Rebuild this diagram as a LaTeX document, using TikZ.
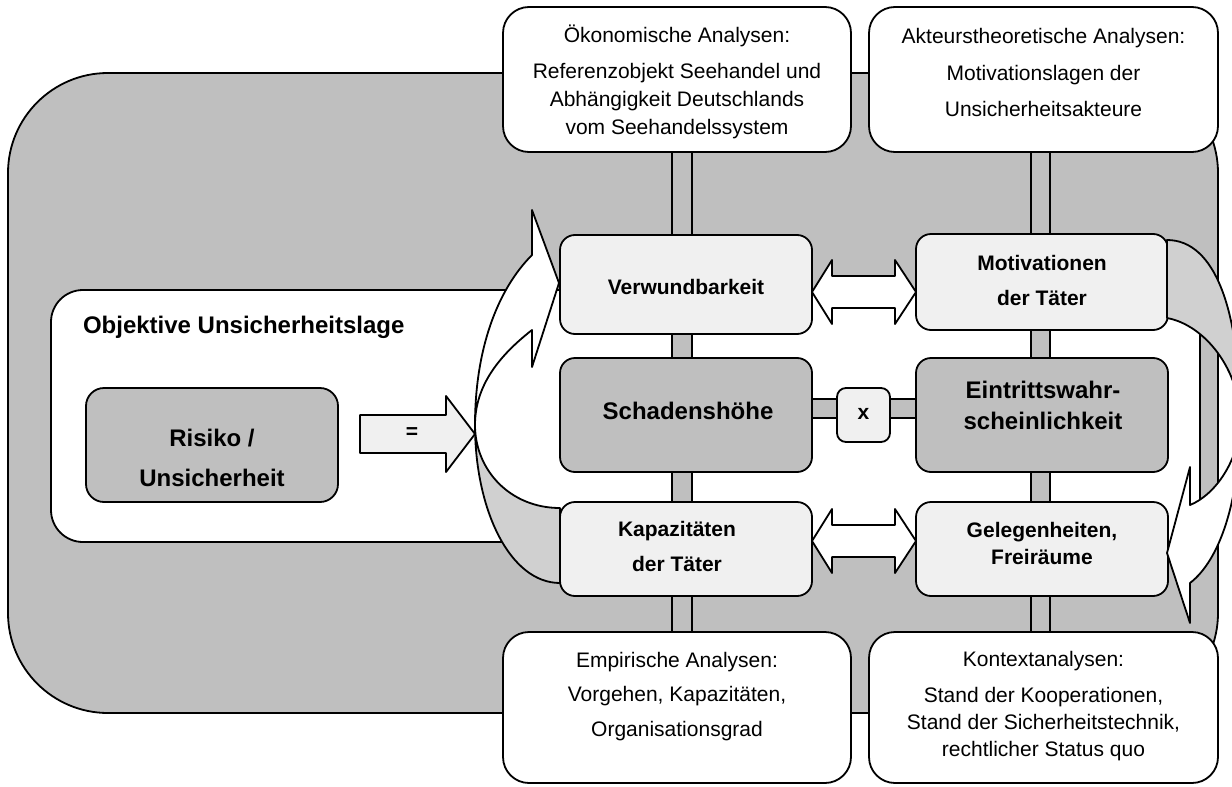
\documentclass[tikz,border=0pt]{standalone}
\usepackage{fontspec}
\setmainfont{Liberation Sans}
\usetikzlibrary{calc}
\definecolor{cGray}{HTML}{BFBFBF}
\definecolor{cLight}{HTML}{F0F0F0}
\definecolor{cBand}{HTML}{D0D0D0}
\begin{document}
\begin{tikzpicture}[x=1pt,y=-1pt,line join=round,
  every node/.style={inner sep=0pt,outer sep=0pt},
  panel/.style={draw=black,line width=1.8pt},
  infobox/.style={panel,fill=white,rounded corners=26pt,minimum width=348pt},
  midbox/.style={panel,rounded corners=15pt,minimum width=252pt},
  lightpanel/.style={midbox,fill=cLight},
  darkpanel/.style={midbox,fill=cGray},
  regtxt/.style={align=center,font=\fontsize{21}{28}\selectfont},
  boldtxt/.style={align=center,font=\bfseries\fontsize{21}{35}\selectfont},
  bigtxt/.style={align=center,font=\bfseries\fontsize{24}{36}\selectfont},
  blockarrow/.style={panel,fill=white},
  bar/.style={panel,fill=cGray}]
\useasboundingbox (0,0) rectangle (1232,787);

% background panel
\node[panel,fill=cGray,rounded corners=100pt,minimum width=1210pt,minimum height=640pt] (bg) at (613,393) {};
% objective situation panel
\node[panel,fill=white,rounded corners=32pt,minimum width=1149pt,minimum height=252pt] (obj) at (625.5,416) {};
\node[font=\bfseries\fontsize{24}{29}\selectfont,anchor=west] (objt) at (83,327) {Objektive Unsicherheitslage};

% analysis boxes
\node[infobox,minimum height=145pt] (oek) at (677,79.5) {};
\node[infobox,minimum width=349pt,minimum height=145pt] (akt) at (1043.5,79.5) {};
\node[infobox,minimum height=151pt] (emp) at (677,707.5) {};
\node[infobox,minimum width=349pt,minimum height=151pt] (kon) at (1043.5,707.5) {};

\node[regtxt] (oekt) at (677,82) {Ökonomische Analysen:\\[8pt]Referenzobjekt Seehandel und\\Abhängigkeit Deutschlands\\vom Seehandelssystem};
\node[regtxt,font=\fontsize{21}{36.5}\selectfont] (aktt) at (1043.5,72.5) {Akteurstheoretische Analysen:\\Motivationslagen der\\Unsicherheitsakteure};
\node[regtxt,font=\fontsize{21}{34.5}\selectfont] (empt) at (677,696.5) {Empirische Analysen:\\Vorgehen, Kapazitäten,\\Organisationsgrad};
\node[regtxt,font=\fontsize{21}{27}\selectfont] (kont) at (1043.5,706.5) {Kontextanalysen:\\[9pt]Stand der Kooperationen,\\Stand der Sicherheitstechnik,\\rechtlicher Status quo};

% vertical bars
\draw[bar] ($(oek.south)+(-5,0)$) rectangle ($(emp.north)+(15,0)$);
\draw[bar] ($(akt.south)+(-12.5,0)$) rectangle ($(kon.north)+(6.5,0)$);

% middle boxes
\node[lightpanel,minimum height=99pt] (verw) at (686,284.5) {};
\node[lightpanel,minimum height=96pt] (motiv) at (1042,282) {};
\node[darkpanel,minimum height=114pt] (schaden) at (686,415) {};
\node[darkpanel,minimum height=114pt] (eintr) at (1042,415) {};
\node[lightpanel,minimum height=94pt] (kapaz) at (686,549) {};
\node[lightpanel,minimum height=94pt] (geleg) at (1042,549) {};

\node[boldtxt] (verwt) at (686,287) {Verwundbarkeit};
\node[boldtxt] (motivt) at (1042,280) {Motivationen\\der Täter};
\node[bigtxt] (schadent) at (688,411) {Schadenshöhe};
\node[bigtxt,font=\bfseries\fontsize{24}{31}\selectfont] (eintrt) at (1043,405) {Eintrittswahr-\\scheinlichkeit};
\node[boldtxt] (kapazt) at (677,546) {Kapazitäten\\der Täter};
\node[boldtxt,font=\bfseries\fontsize{21}{27}\selectfont] (gelegt) at (1042,543) {Gelegenheiten,\\Freiräume};

% multiplication link
\draw[bar] ($(schaden.east)+(0,-16)$) rectangle ($(eintr.west)+(0,3)$);
\node[panel,fill=cLight,rounded corners=9pt,minimum width=53pt,minimum height=54pt] (xbox) at (863.5,415) {};
\node[font=\bfseries\fontsize{21}{25}\selectfont] (xt) at (863.5,414) {x};

% double arrows
\coordinate (ua) at (0,292);
\coordinate (la) at (0,541);
\coordinate (uL) at (verw.east |- ua);
\coordinate (uR) at (motiv.west |- ua);
\coordinate (lL) at (kapaz.east |- la);
\coordinate (lR) at (geleg.west |- la);
\draw[blockarrow] (uL) -- ($(uL)+(20,-32)$) -- ($(uL)+(20,-16)$) -- ($(uR)+(-21,-16)$) -- ($(uR)+(-21,-32)$) -- (uR)
  -- ($(uR)+(-21,32)$) -- ($(uR)+(-21,16)$) -- ($(uL)+(20,16)$) -- ($(uL)+(20,32)$) -- cycle;
\draw[blockarrow] (lL) -- ($(lL)+(20,-32)$) -- ($(lL)+(20,-16)$) -- ($(lR)+(-21,-16)$) -- ($(lR)+(-21,-32)$) -- (lR)
  -- ($(lR)+(-21,32)$) -- ($(lR)+(-21,16)$) -- ($(lL)+(20,16)$) -- ($(lL)+(20,32)$) -- cycle;

% risk box and equals arrow
\node[panel,fill=cGray,rounded corners=18pt,minimum width=252pt,minimum height=114pt] (risiko) at (212,445) {};
\node[bigtxt,font=\bfseries\fontsize{24}{40}\selectfont] (risikot) at (212,458) {Risiko /\\Unsicherheit};
\coordinate (eqs) at (360,434);
\coordinate (eqtip) at (475,434);
\draw[panel,fill=cLight] ($(eqs)+(0,-19)$) -- ($(eqtip)+(-29,-19)$) -- ($(eqtip)+(-29,-38)$) -- (eqtip)
  -- ($(eqtip)+(-29,38)$) -- ($(eqtip)+(-29,19)$) -- ($(eqs)+(0,19)$) -- cycle;
\node[font=\bfseries\fontsize{21}{25}\selectfont] (eqt) at (412,433) {=};

% left curved arrow (Kapazitäten -> Verwundbarkeit)
\coordinate (lp) at (475,425);
\draw[panel,fill=cBand] (lp) .. controls (475,510) and (510,583) .. (kapaz.west |- 0,583) -- (kapaz.west |- 0,508)
  .. controls (510,508) and (475,470) .. (lp) -- cycle;
\draw[panel,fill=white] (lp) .. controls (475,350) and (497,290) .. (532,255) -- (532,210) -- (559,283)
  -- (532,367) -- (532,330) .. controls (500,355) and (475,385) .. (lp) -- cycle;

% right curved arrow (Motivationen -> Gelegenheiten)
\coordinate (rp) at (1240,420);
\draw[panel,fill=cBand] (1167,240) .. controls (1215,240) and (1240,310) .. (rp)
  .. controls (1240,370) and (1205,325) .. (1167,318) -- cycle;
\draw[panel,fill=white] (rp) .. controls (1240,500) and (1220,560) .. (1190,583) -- (1190,623) -- (1167,553)
  -- (1190,467) -- (1190,505) .. controls (1215,495) and (1240,460) .. (rp) -- cycle;
\end{tikzpicture}
\end{document}
